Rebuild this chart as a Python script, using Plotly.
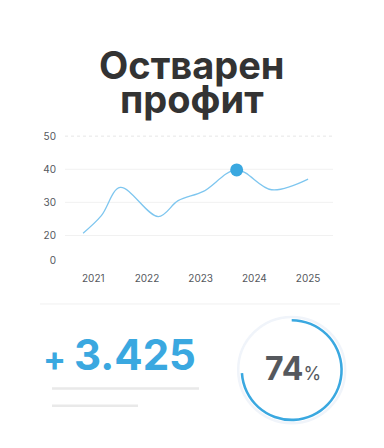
import plotly.graph_objects as go

# Data
title_lines = ["Остварен", "профит"]
years = [2020.81, 2021.15, 2021.5, 2022.21, 2022.58, 2023.05, 2023.67, 2024.32, 2025.0]
profit = [20.7, 26.0, 34.5, 25.7, 30.5, 33.3, 39.8, 33.8, 37.0]
highlight_year = [2023.67]
highlight_value = [39.8]
x_ticks = [2021, 2022, 2023, 2024, 2025]
y_tickvals = [12.3, 20, 30, 40, 50]
y_ticktext = ["0", "20", "30", "40", "50"]
grid_vals = [20, 30, 40]
grid_dotted = [50]
kpi_value = "3.425"
percent = 74

# page body has an 8px default margin
OFF = 8
W, H = 384 - OFF, 448 - OFF
def px(x):
    return (x - OFF) / W
def py(y):
    return 1 - (y - OFF) / H

BLUE = "#3aa8e0"
LINE = "#7ec6ef"
DARK = "#333333"
GRAY = "#55585d"
FONT = "Inter"

CX, CY, R = 291.7, 370.5, 51.5

fig = go.Figure()
fig.add_trace(go.Scatter(x=years, y=profit, mode="lines",
                         line=dict(color=LINE, width=1.3, shape="spline", smoothing=1.0),
                         hoverinfo="skip", showlegend=False))
fig.add_trace(go.Scatter(x=highlight_year, y=highlight_value, mode="markers",
                         marker=dict(color=BLUE, size=13), showlegend=False))

fig.add_trace(go.Pie(values=[percent, 100 - percent], sort=False, direction="clockwise",
                     rotation=0, hole=0.95, textinfo="none", hoverinfo="skip",
                     marker=dict(colors=[BLUE, "rgba(0,0,0,0)"], line=dict(width=0)),
                     domain=dict(x=[px(CX - R), px(CX + R)],
                                 y=[py(CY + R), py(CY - R)]),
                     showlegend=False))

shapes = []
for v in grid_vals:
    shapes.append(dict(type="line", xref="x domain", yref="y", x0=0, x1=1, y0=v, y1=v,
                       line=dict(color="#f1f1f1", width=1), layer="below"))
for v in grid_dotted:
    shapes.append(dict(type="line", xref="x domain", yref="y", x0=0, x1=1, y0=v, y1=v,
                       line=dict(color="#e6e6e6", width=1, dash="dot"), layer="below"))
# divider
shapes.append(dict(type="line", xref="paper", yref="paper", x0=px(40), x1=px(340),
                   y0=py(304), y1=py(304), line=dict(color="#f0f0f0", width=1)))
# placeholder bars
shapes.append(dict(type="line", xref="paper", yref="paper", x0=px(52), x1=px(199),
                   y0=py(389), y1=py(389), line=dict(color="#e9e9e9", width=2.5)))
shapes.append(dict(type="line", xref="paper", yref="paper", x0=px(52), x1=px(138),
                   y0=py(406.5), y1=py(406.5), line=dict(color="#e9e9e9", width=2.5)))
# faint halo ring around the gauge
RH = 53.5
shapes.append(dict(type="circle", xref="paper", yref="paper",
                   x0=px(CX - RH), x1=px(CX + RH), y0=py(CY + RH), y1=py(CY - RH),
                   line=dict(color="#f0f4fa", width=2.5), layer="below"))

annotations = [
    dict(text=f"<b>{title_lines[0]}</b>", x=px(192), y=py(63.5), xref="paper", yref="paper",
         showarrow=False, font=dict(family=FONT, size=38, color=DARK), xanchor="center", yanchor="middle"),
    dict(text=f"<b>{title_lines[1]}</b>", x=px(192), y=py(97.5), xref="paper", yref="paper",
         showarrow=False, font=dict(family=FONT, size=38, color=DARK), xanchor="center", yanchor="middle"),
    dict(text="<b>+</b>", x=px(54), y=py(359), xref="paper", yref="paper", showarrow=False,
         font=dict(family=FONT, size=34, color=BLUE), xanchor="center", yanchor="middle"),
    dict(text=f"<b>{kpi_value}</b>", x=px(72), y=py(355), xref="paper", yref="paper", showarrow=False,
         font=dict(family=FONT, size=42, color=BLUE), xanchor="left", yanchor="middle"),
    dict(text=f"<b>{percent}</b><span style='font-size:18px'>%</span>", x=px(293), y=py(369),
         xref="paper", yref="paper", showarrow=False,
         font=dict(family=FONT, size=32, color=GRAY), xanchor="center", yanchor="middle"),
]

fig.update_layout(
    width=W, height=H, margin=dict(l=0, r=0, t=0, b=0),
    paper_bgcolor="white", plot_bgcolor="white",
    shapes=shapes, annotations=annotations,
    xaxis=dict(domain=[px(65), px(333)], range=[2020.473, 2025.464], tickvals=x_ticks,
               showgrid=False, zeroline=False, showline=False,
               ticks="outside", ticklen=4, tickcolor="rgba(0,0,0,0)",
               tickfont=dict(family=FONT, size=10, color=GRAY)),
    yaxis=dict(domain=[py(265), py(130)], range=[11, 51.5], tickvals=y_tickvals, ticktext=y_ticktext,
               showgrid=False, zeroline=False, showline=False,
               ticks="outside", ticklen=6, tickcolor="rgba(0,0,0,0)",
               tickfont=dict(family=FONT, size=10, color=GRAY)),
)

fig.write_html("out.html")
